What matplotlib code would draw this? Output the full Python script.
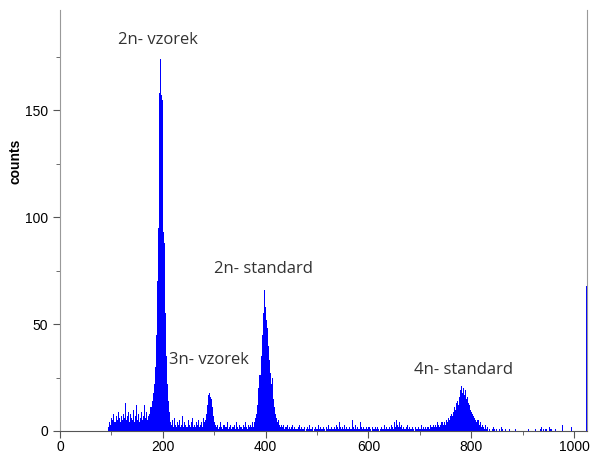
import numpy as np
import matplotlib; matplotlib.use("Agg")
import matplotlib.pyplot as plt
from matplotlib.ticker import MultipleLocator

# histogram, one value per 2-channel bin
left_start = 94
left_base = [2, 4, 3, 6, 5, 8, 4, 7, 5, 9, 6, 4, 7, 5, 8, 6, 13, 5, 7, 9,
             4, 8, 6, 5, 10, 4, 7, 12, 5, 8, 4, 6, 9, 5, 7, 12, 6, 9, 5, 7]
p2n_start = 174
p2n_sample = [8, 11, 14, 18, 22, 30, 45, 70, 95, 158, 174, 157, 155, 93, 88, 55, 35, 22, 14, 9]
mid1_start = 214
mid1_base = [4, 3, 5, 2, 6, 3, 2, 4, 3, 5, 2, 3, 7, 2, 4, 3, 2, 5, 3, 2,
             4, 6, 2, 3, 2, 4, 3, 5, 2, 3, 4, 2, 6, 4]
p3n_start = 282
p3n_sample = [5, 8, 12, 17, 18, 16, 15, 11, 7, 4, 3]
mid2_start = 304
mid2_base = [2, 3, 1, 2, 4, 2, 1, 3, 2, 2, 4, 1, 2, 3, 1, 2, 2, 3, 1, 4,
             2, 1, 3, 2, 2, 1, 3, 2, 4, 2, 1, 3, 2, 3, 2, 4]
p2n_std_start = 376
p2n_standard = [2, 4, 6, 8, 12, 20, 26, 35, 45, 55, 66, 58, 52, 48, 40, 33, 27, 22,
                25, 15, 11, 8, 6, 4, 5, 3, 2]
mid3_start = 430
mid3_base = ("3 2 3 1 2 2 3 1 2 1 2 3 1 2 1 1 2 3 1 2 1 "
             "1 2 0 1 2 1 3 1 1 2 0 1 2 1 1 3 1 2 1 1 2 1 0 2 1 3 1 1 2 1 2 1 3 2 1 "
             "4 2 1 2 1 3 1 2 1 1 2 1 1 5 2 1 3 1 2 1 1 4 2 1 2 1 1 2 1 2 "
             "1 0 2 1 1 2 1 2 1 0 1 2 1 1 3 1 2 1 1 2 1 3 2 1 4 2 5 3 2 4 "
             "2 3 1 2 1 2 3 1 2 1 1 2 1 0 2 1 1 2 1 1 3 1 2 1 2 1 2 2 1 3 2 2 3 2 3 2 4 3 2 3 4")
p4n_start = 744
p4n_standard = [3, 4, 3, 5, 4, 6, 5, 7, 8, 7, 9, 11, 10, 13, 14, 12, 16, 19, 21, 18,
                20, 17, 19, 15, 16, 13, 12, 10, 9, 8, 7, 6, 5, 4, 5, 3, 4, 2, 3, 2,
                1, 3, 1, 2]
tail_start = 832
tail_base = ("0 1 0 0 1 2 1 0 1 0 0 1 0 2 1 0 0 1 0 0 0 1 0 0 0 0 1 0 0 0 "
             "0 0 0 0 0 0 0 0 0 1 0 0 0 0 0 0 1 0 0 0 0 1 2 0 1 0 1 1 0 0 "
             "2 1 0 0 0 1 0 0 0 0 0 0 3 0 0 0 0 0 0 0 0 2 0 0 0")
overflow_ch, overflow_val = 1023, 68

labels = ["2n- vzorek", "3n- vzorek", "2n- standard", "4n- standard"]
label_x = [191, 290, 395, 784]
label_y = [183, 33, 76, 28.5]

segs = [(left_start, left_base), (p2n_start, p2n_sample), (mid1_start, mid1_base),
        (p3n_start, p3n_sample), (mid2_start, mid2_base), (p2n_std_start, p2n_standard),
        (mid3_start, [int(v) for v in mid3_base.split()]), (p4n_start, p4n_standard),
        (tail_start, [int(v) for v in tail_base.split()])]

fig = plt.figure(figsize=(5.94, 4.54), dpi=100)
ax = fig.add_axes([60/594, 23/454, 527/594, 421/454])
for s, vals in segs:
    ch = s + 2 * np.arange(len(vals))
    ax.bar(ch, vals, width=2, align="edge", color="#0000ff", linewidth=0)
ax.bar([overflow_ch], [overflow_val], width=1.5, align="edge", color="#0000ff", linewidth=0)

ax.set_xlim(0, 1025); ax.set_ylim(0, 197)
ax.xaxis.set_major_locator(MultipleLocator(200)); ax.xaxis.set_minor_locator(MultipleLocator(100))
ax.yaxis.set_major_locator(MultipleLocator(50)); ax.yaxis.set_minor_locator(MultipleLocator(25))
ax.tick_params(which="major", length=5, color="#555555", labelsize=10)
ax.tick_params(which="minor", length=3, color="#555555")
ax.tick_params(axis="x", pad=1.5)
for lab in ax.get_xticklabels() + ax.get_yticklabels():
    lab.set_family("Liberation Sans")
ax.spines["top"].set_visible(False)
ax.spines["left"].set_color("#999999"); ax.spines["right"].set_color("#999999")
ax.spines["bottom"].set_color("#555555")
ax.set_ylabel("counts", fontsize=10, fontweight="bold", family="Liberation Sans")
ax.yaxis.set_label_coords(-0.072, 0.641)

for t, x, y in zip(labels, label_x, label_y):
    ax.text(x, y, t, ha="center", va="center", fontsize=12, color="#333333", family="Open Sans")

fig.savefig("out.png", dpi=100)
